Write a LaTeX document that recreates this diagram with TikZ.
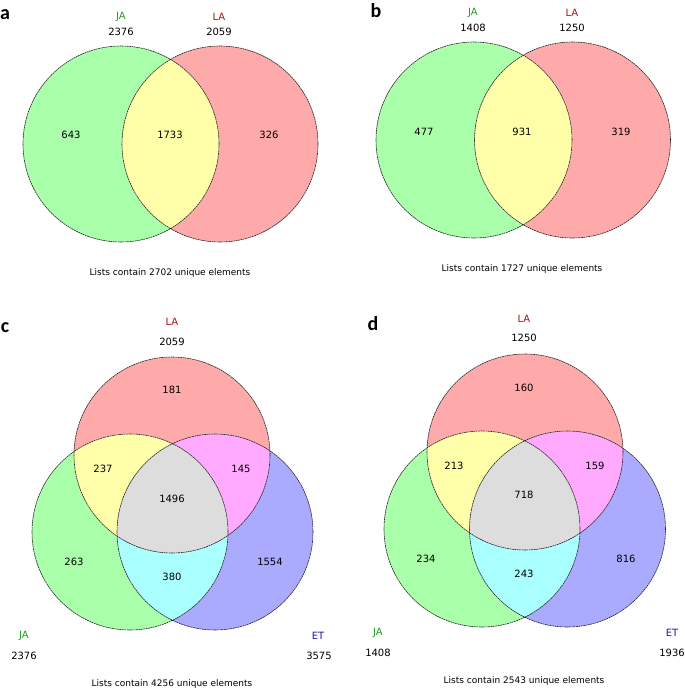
\documentclass[tikz,border=0pt]{standalone}
\usepackage{fontspec}
\setmainfont{DejaVu Sans}
\newfontfamily\panelfont{Carlito}
\usetikzlibrary{positioning}

\definecolor{jaFill}{HTML}{AAFFAA}
\definecolor{laFill}{HTML}{FFAAAA}
\definecolor{etFill}{HTML}{AAAAFF}
\definecolor{jlFill}{HTML}{FFFFAA}
\definecolor{leFill}{HTML}{FFAAFF}
\definecolor{jeFill}{HTML}{AAFFFF}
\definecolor{allFill}{HTML}{DDDDDD}
\definecolor{jaText}{HTML}{229922}
\definecolor{laText}{HTML}{AA1111}
\definecolor{etText}{HTML}{1A1AAA}

\def\rad{98pt}

\tikzset{
  setline/.style={draw=black!85, line width=0.6pt, dash pattern=on 1.8pt off 0.6pt},
  count/.style={font=\fontsize{10}{12}\selectfont, inner sep=0pt},
  caption/.style={font=\fontsize{9}{11}\selectfont, inner sep=0pt},
  panel/.style={font=\panelfont\bfseries\fontsize{20}{24}\selectfont, anchor=base, inner sep=0pt},
}

\begin{document}
\begin{tikzpicture}[x=1pt, y=-1pt]
  \useasboundingbox (0,0) rectangle (685,691);

  % Set centres
  \coordinate (aJA) at (121,144);
  \coordinate (aLA) at (220,144);
  \coordinate (bJA) at (474,140);
  \coordinate (bLA) at (572.5,140);
  \coordinate (cLA) at (172,455);
  \coordinate (cJA) at (130,532);
  \coordinate (cET) at (215,532);
  \coordinate (dLA) at (525,452);
  \coordinate (dJA) at (482,529);
  \coordinate (dET) at (567.5,529);

  % Panel a
  \fill[jaFill] (aJA) circle[radius=\rad];
  \fill[laFill] (aLA) circle[radius=\rad];
  \begin{scope}
    \clip (aJA) circle[radius=\rad];
    \fill[jlFill] (aLA) circle[radius=\rad];
  \end{scope}
  \draw[setline] (aJA) circle[radius=\rad] (aLA) circle[radius=\rad];

  % Panel b
  \fill[jaFill] (bJA) circle[radius=\rad];
  \fill[laFill] (bLA) circle[radius=\rad];
  \begin{scope}
    \clip (bJA) circle[radius=\rad];
    \fill[jlFill] (bLA) circle[radius=\rad];
  \end{scope}
  \draw[setline] (bJA) circle[radius=\rad] (bLA) circle[radius=\rad];

  % Panel c
  \fill[laFill] (cLA) circle[radius=\rad];
  \fill[jaFill] (cJA) circle[radius=\rad];
  \fill[etFill] (cET) circle[radius=\rad];
  \begin{scope}
    \clip (cJA) circle[radius=\rad];
    \fill[jlFill] (cLA) circle[radius=\rad];
    \fill[jeFill] (cET) circle[radius=\rad];
  \end{scope}
  \begin{scope}
    \clip (cLA) circle[radius=\rad];
    \fill[leFill] (cET) circle[radius=\rad];
    \clip (cET) circle[radius=\rad];
    \fill[allFill] (cJA) circle[radius=\rad];
  \end{scope}
  \draw[setline] (cLA) circle[radius=\rad] (cJA) circle[radius=\rad] (cET) circle[radius=\rad];

  % Panel d
  \fill[laFill] (dLA) circle[radius=\rad];
  \fill[jaFill] (dJA) circle[radius=\rad];
  \fill[etFill] (dET) circle[radius=\rad];
  \begin{scope}
    \clip (dJA) circle[radius=\rad];
    \fill[jlFill] (dLA) circle[radius=\rad];
    \fill[jeFill] (dET) circle[radius=\rad];
  \end{scope}
  \begin{scope}
    \clip (dLA) circle[radius=\rad];
    \fill[leFill] (dET) circle[radius=\rad];
    \clip (dET) circle[radius=\rad];
    \fill[allFill] (dJA) circle[radius=\rad];
  \end{scope}
  \draw[setline] (dLA) circle[radius=\rad] (dJA) circle[radius=\rad] (dET) circle[radius=\rad];

  % Panel letters
  \node[panel] (pa) at (5,19)   {a};
  \node[panel] (pb) at (376,17) {b};
  \node[panel] (pc) at (5,332)  {c};
  \node[panel] (pd) at (373,330) {d};

  % Labels a
  \node[count, text=jaText] (aJAname) at (121,17) {JA};
  \node[count]              (aJAsize) at (121,32) {2376};
  \node[count, text=laText] (aLAname) at (219,17) {LA};
  \node[count]              (aLAsize) at (219,32) {2059};
  \node[count] (a643)  at (71,135)  {643};
  \node[count] (a1733) at (170,135) {1733};
  \node[count] (a326)  at (269,135) {326};
  \node[caption] (acap) at (170,273) {Lists contain 2702 unique elements};

  % Labels b
  \node[count, text=jaText] (bJAname) at (473,13) {JA};
  \node[count]              (bJAsize) at (473,28) {1408};
  \node[count, text=laText] (bLAname) at (572,13) {LA};
  \node[count]              (bLAsize) at (572,28) {1250};
  \node[count] (b477) at (424,132) {477};
  \node[count] (b931) at (522,132) {931};
  \node[count] (b319) at (621,132) {319};
  \node[caption] (bcap) at (522,269) {Lists contain 1727 unique elements};

  % Labels c
  \node[count, text=laText] (cLAname) at (172,322) {LA};
  \node[count]              (cLAsize) at (172,342) {2059};
  \node[count, text=jaText] (cJAname) at (24,636)  {JA};
  \node[count]              (cJAsize) at (24,656)  {2376};
  \node[count, text=etText] (cETname) at (318,636) {ET};
  \node[count]              (cETsize) at (319,656) {3575};
  \node[count] (c181)  at (172,390) {181};
  \node[count] (c237)  at (103,469) {237};
  \node[count] (c145)  at (241,469) {145};
  \node[count] (c1496) at (172,499) {1496};
  \node[count] (c263)  at (74,562)  {263};
  \node[count] (c380)  at (172,577) {380};
  \node[count] (c1554) at (270,562) {1554};
  \node[caption] (ccap) at (172,684) {Lists contain 4256 unique elements};

  % Labels d
  \node[count, text=laText] (dLAname) at (524,319) {LA};
  \node[count]              (dLAsize) at (524,338) {1250};
  \node[count, text=jaText] (dJAname) at (378,633) {JA};
  \node[count]              (dJAsize) at (378,653) {1408};
  \node[count, text=etText] (dETname) at (672,633) {ET};
  \node[count]              (dETsize) at (672,653) {1936};
  \node[count] (d160) at (524,388) {160};
  \node[count] (d213) at (454,466) {213};
  \node[count] (d159) at (595,466) {159};
  \node[count] (d718) at (524,495) {718};
  \node[count] (d234) at (426,559) {234};
  \node[count] (d243) at (524,574) {243};
  \node[count] (d816) at (626,559) {816};
  \node[caption] (dcap) at (524,681) {Lists contain 2543 unique elements};

\end{tikzpicture}
\end{document}
